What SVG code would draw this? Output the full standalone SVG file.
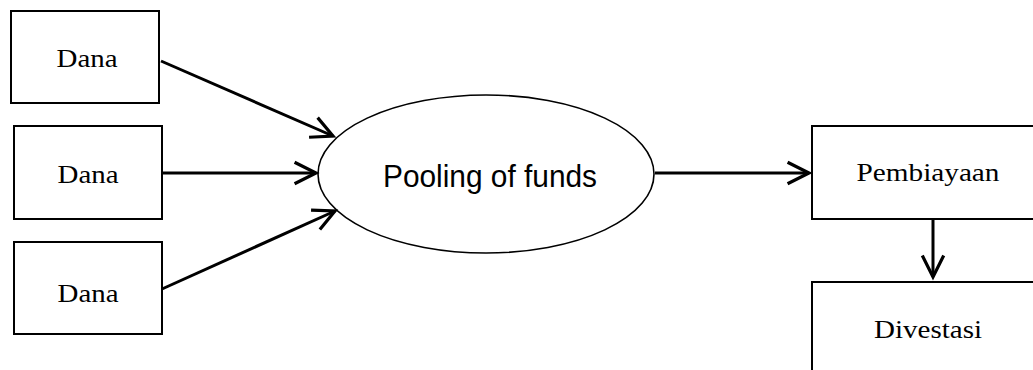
<svg xmlns="http://www.w3.org/2000/svg" width="1033" height="370" viewBox="0 0 1033 370">
  <style>
    .box { fill: #fff; stroke: #000; stroke-width: 2; }
    .oval { fill: #fff; stroke: #000; stroke-width: 1.6; }
    .serif { font-family: "Liberation Serif", "Times New Roman", serif; font-size: 26px; fill: #000; }
    .sans { font-family: "Liberation Sans", Arial, sans-serif; font-size: 31px; fill: #000; }
    .edge { stroke: #000; stroke-width: 3; fill: none; }
  </style>
  <defs>
    <marker id="chev" markerUnits="userSpaceOnUse" markerWidth="30" markerHeight="30" refX="0" refY="0" viewBox="-24 -14 28 28" orient="auto" overflow="visible">
      <path d="M-20,-10 L0,0 L-20,10" fill="none" stroke="#000" stroke-width="3" stroke-linejoin="miter"/>
    </marker>
  </defs>

  <g id="dana-1">
    <rect class="box" x="11" y="11" width="148" height="92"/>
    <text class="serif" x="87" y="67" text-anchor="middle" textLength="61" lengthAdjust="spacingAndGlyphs">Dana</text>
  </g>
  <g id="dana-2">
    <rect class="box" x="14" y="126" width="148" height="93"/>
    <text class="serif" x="88" y="183" text-anchor="middle" textLength="61" lengthAdjust="spacingAndGlyphs">Dana</text>
  </g>
  <g id="dana-3">
    <rect class="box" x="14" y="242" width="148" height="92"/>
    <text class="serif" x="88" y="302" text-anchor="middle" textLength="61" lengthAdjust="spacingAndGlyphs">Dana</text>
  </g>
  <g id="pooling">
    <ellipse class="oval" cx="486" cy="174" rx="168" ry="79"/>
    <text class="sans" x="490" y="187" text-anchor="middle" textLength="214" lengthAdjust="spacingAndGlyphs">Pooling of funds</text>
  </g>
  <g id="pembiayaan">
    <rect class="box" x="812" y="126" width="240" height="93"/>
    <text class="serif" x="928" y="181" text-anchor="middle" textLength="143" lengthAdjust="spacingAndGlyphs">Pembiayaan</text>
  </g>
  <g id="divestasi">
    <rect class="box" x="812" y="282" width="240" height="120"/>
    <text class="serif" x="928" y="338" text-anchor="middle" textLength="108" lengthAdjust="spacingAndGlyphs">Divestasi</text>
  </g>

  <g id="connectors">
    <line class="edge" x1="161" y1="61" x2="333" y2="136" marker-end="url(#chev)"/>
    <line class="edge" x1="162" y1="173" x2="316" y2="173" marker-end="url(#chev)"/>
    <line class="edge" x1="162" y1="289" x2="335" y2="211" marker-end="url(#chev)"/>
    <line class="edge" x1="655" y1="173" x2="809" y2="173" marker-end="url(#chev)"/>
    <line class="edge" x1="933" y1="219" x2="933" y2="277" marker-end="url(#chev)"/>
  </g>
</svg>
